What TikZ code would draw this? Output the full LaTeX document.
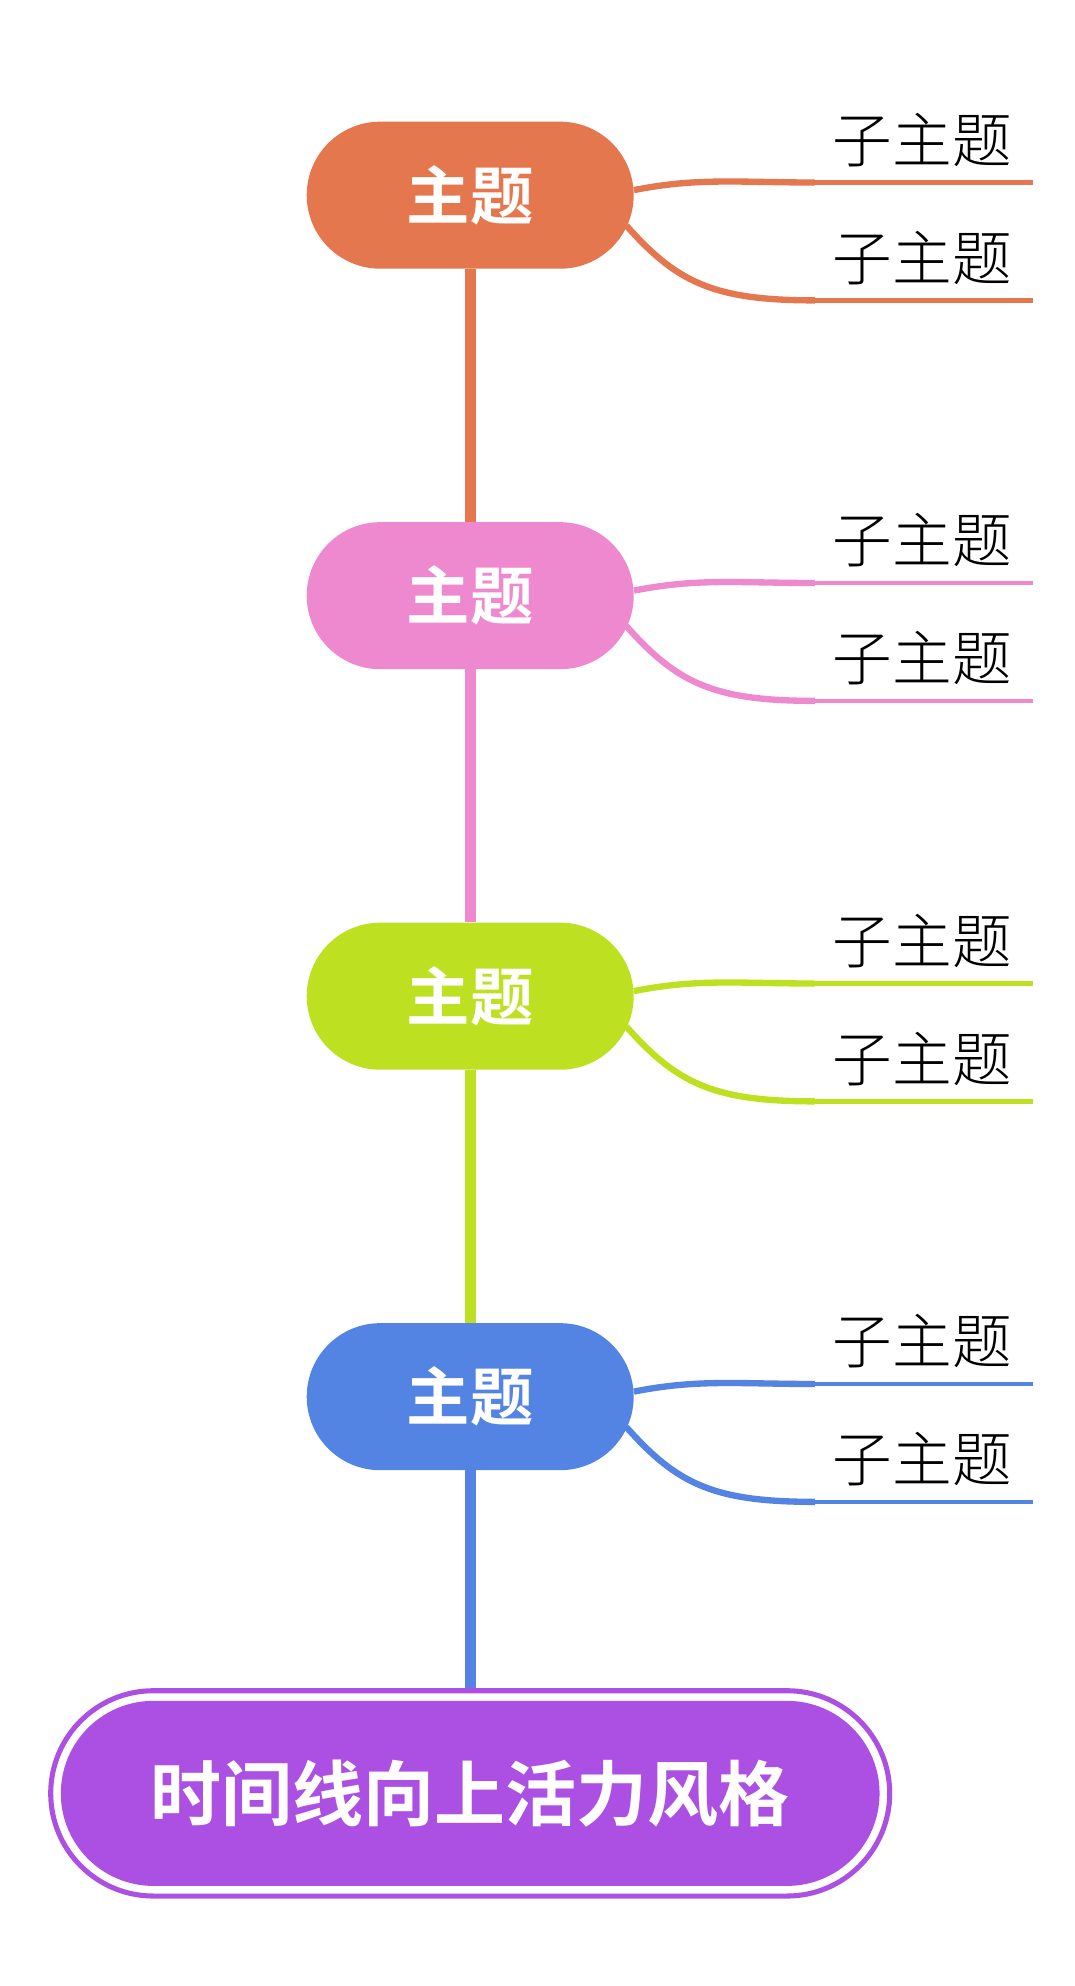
\documentclass[tikz,border=0pt]{standalone}
\usepackage{fontspec}
\newfontfamily\cjk{Noto Sans CJK SC Light}
\newfontfamily\cjkb{Noto Sans CJK SC Bold}
\definecolor{c1}{HTML}{E5774F}
\definecolor{c2}{HTML}{EE88CF}
\definecolor{c3}{HTML}{BDE120}
\definecolor{c4}{HTML}{5383E3}
\definecolor{c5}{HTML}{AB50E3}
\tikzset{
 topic/.style={fill=#1, rounded corners=58pt, minimum width=258pt, minimum height=116pt, inner sep=0pt, text=white, font=\cjkb\fontsize{50}{50}\selectfont},
 sub/.style={font=\cjk\fontsize{47}{47}\selectfont, inner sep=0pt, anchor=base west},
}
\begin{document}
\begin{tikzpicture}[x=1pt,y=-1pt]
\useasboundingbox (0,0) rectangle (848,1567);
\foreach \i/\c in {1/c1,2/c2,3/c3,4/c4}{
  \pgfmathsetmacro\yy{154+(\i-1)*316}
  \node[topic=\c] (t\i) at (371,\yy) {主题};
  \coordinate (u\i a) at (643,\yy-10);
  \coordinate (u\i b) at (643,\yy+83);
  \coordinate (e\i a) at (815,\yy-10);
  \coordinate (e\i b) at (815,\yy+83);
  \draw[\c, line width=5pt] (t\i.east) ++(0,-4) .. controls +(50,-10) and +(-60,0) .. (u\i a);
  \draw[\c, line width=5pt] (t\i.east) ++(-6,24) .. controls +(40,45) and +(-80,0) .. (u\i b);
  \draw[\c, line width=3.5pt] (u\i a) -- (e\i a);
  \draw[\c, line width=3.5pt] (u\i b) -- (e\i b);
  \node[sub] (s\i a) at (657,\yy-26) {子主题};
  \node[sub] (s\i b) at (657,\yy+67) {子主题};
}
\node[fill=c5, rounded corners=73pt, minimum width=646pt, minimum height=146pt, inner sep=0pt, text=white, font=\cjkb\fontsize{56}{56}\selectfont] (root) at (371,1415) {时间线向上活力风格};
\draw[c5, line width=4pt, rounded corners=81pt] (40,1334) rectangle (702,1496);
\draw[c1, line width=9pt] (t1.south) -- (t2.north);
\draw[c2, line width=9pt] (t2.south) -- (t3.north);
\draw[c3, line width=9pt] (t3.south) -- (t4.north);
\draw[c4, line width=9pt] (t4.south) -- (371,1332);
\end{tikzpicture}
\end{document}
